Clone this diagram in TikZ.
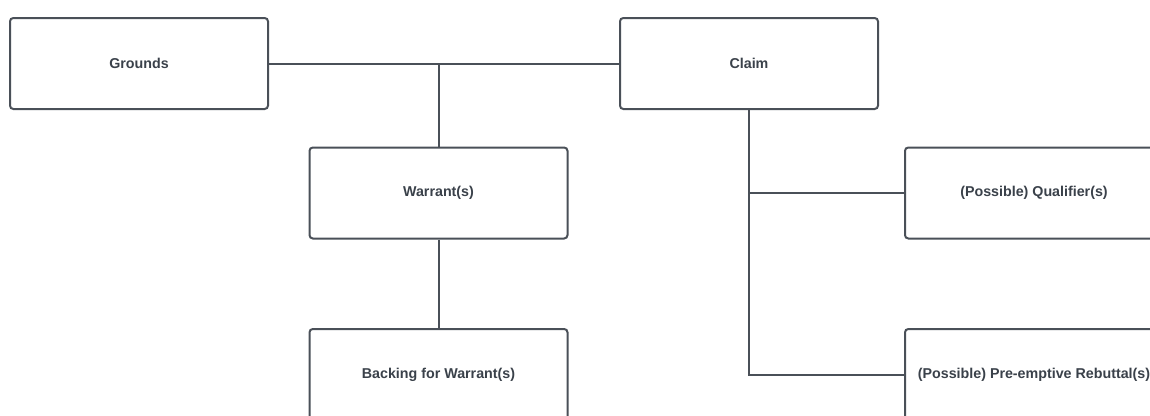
\documentclass[tikz,border=0pt]{standalone}
\usepackage{fontspec}
\setmainfont{Liberation Sans}
\definecolor{linec}{HTML}{4A5058}
\definecolor{textc}{HTML}{3A414A}
\begin{document}
\begin{tikzpicture}[x=0.75pt,y=-0.75pt,
  box/.style={draw=linec, line width=1.5pt, rounded corners=2.5pt,
    minimum width=193.5pt, minimum height=68.25pt, inner sep=0pt,
    font=\bfseries\fontsize{10.7}{12}\selectfont, text=textc, fill=white},
  conn/.style={draw=linec, line width=1.5pt}]
\useasboundingbox (0,0) rectangle (1150,415);
\clip (0,0) rectangle (1150,415);
\node[box] (grounds) at (139,63.5) {Grounds};
\node[box] (claim) at (749,63.5) {Claim};
\node[box] (warrant) at (438.5,193) {Warrant(s)};
\node[box] (backing) at (438.5,374.5) {Backing for Warrant(s)};
\node[box] (qual) at (1034,193) {(Possible) Qualifier(s)};
\node[box] (rebut) at (1034,374.5) {(Possible) Pre-emptive Rebuttal(s)};
\draw[conn] (grounds.east) -- (claim.west);
\coordinate (j1) at (warrant.north |- grounds.east);
\draw[conn] (j1) -- (warrant.north);
\draw[conn] (warrant.south) -- (backing.north);
\draw[conn] (claim.south) |- (rebut.west);
\coordinate (j2) at (claim.south |- qual.west);
\draw[conn] (j2) -- (qual.west);
\end{tikzpicture}
\end{document}
